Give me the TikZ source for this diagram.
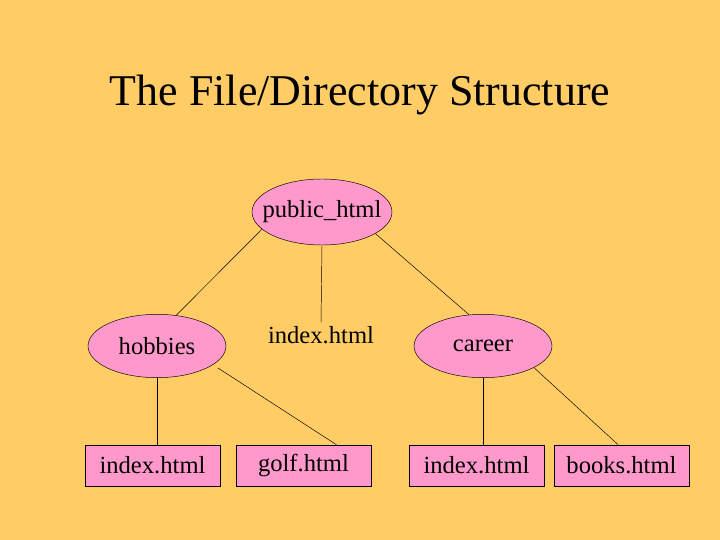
\documentclass[tikz,border=0pt]{standalone}
\usepackage{fontspec}
\setmainfont{Liberation Serif}
\usetikzlibrary{shapes.geometric}
\definecolor{bgorange}{HTML}{FFCC66}
\definecolor{dirpink}{HTML}{FF99CC}
\tikzset{
dir/.style={shape=ellipse, draw=black, fill=dirpink, minimum width=4.14cm, minimum height=1.9cm, inner sep=0pt, font=\fontsize{21}{24}\selectfont},
file/.style={shape=rectangle, draw=black, fill=dirpink, minimum width=4.05cm, minimum height=1.23cm, inner sep=0pt, font=\fontsize{21}{24}\selectfont}}
\begin{document}
\begin{tikzpicture}[x=0.03cm, y=-0.03cm]
    \fill[bgorange] (0,0) rectangle (720,540);
    \node[font=\fontsize{37.5}{44}\selectfont] (title) at (360,95) {The File/Directory Structure};

    \node[dir, minimum width=4.2cm, minimum height=1.98cm, inner xsep=-0.75cm] (pub) at (322,212) {public\_html};
    \node[dir] (hob) at (157,346) {hobbies};
    \node[font=\fontsize{21}{24}\selectfont, inner sep=0pt] (idx) at (321,335) {index.html};
    \node[dir] (car) at (483,346) {career};

    \node[file] (hobidx) at (152.5,465.5) {index.html};
    \node[file] (golf) at (303.5,465.5) {golf.html};
    \node[file] (caridx) at (476.5,465.5) {index.html};
    \node[file] (books) at (621.5,465.5) {books.html};

    \draw (pub.196) -- (hob.58);
    \draw (pub.south) -- ([yshift=0.1cm]idx.north);
    \draw (pub.338) -- (car.114);
    \draw (hob.south) -- (hobidx.north -| hob.south);
    \draw ([xshift=-3.09cm, yshift=-0.99cm]idx.center) -- ([xshift=0.99cm]golf.north);
    \draw (car.south) -- (caridx.north -| car.south);
    \draw (car.337) -- ([xshift=-0.1cm]books.north);
\end{tikzpicture}
\end{document}
